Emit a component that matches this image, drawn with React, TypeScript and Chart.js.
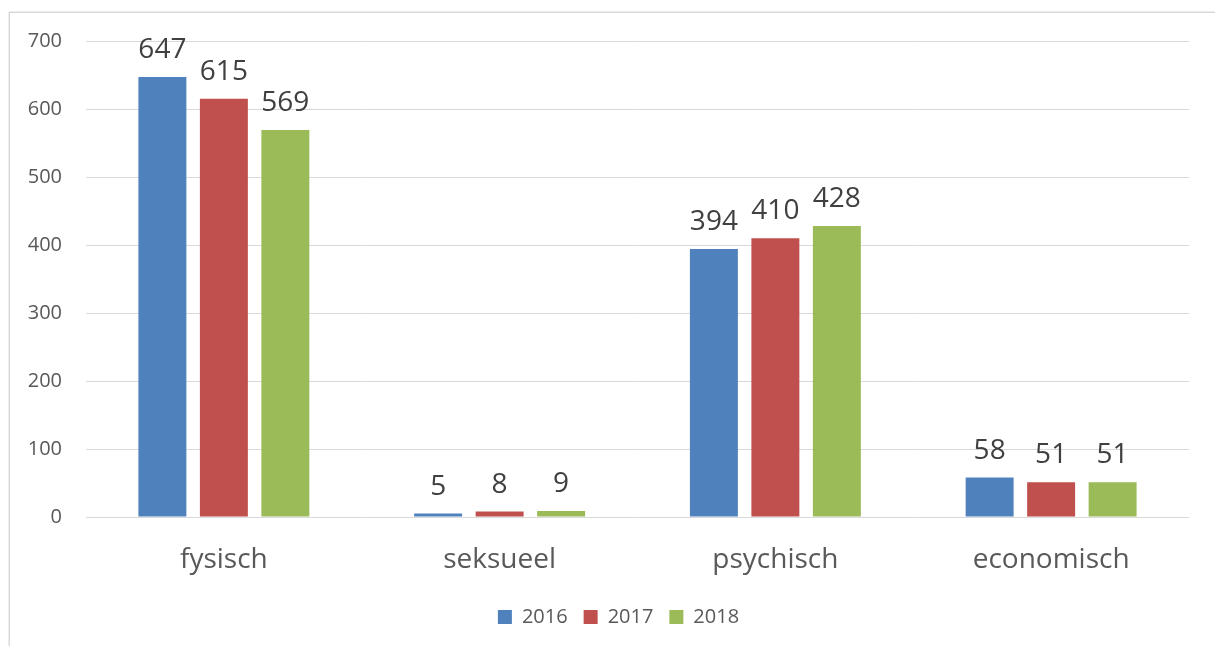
import React, { useEffect, useRef } from "react";
import { Chart, registerables } from "chart.js";

Chart.register(...registerables);

const categories = ["fysisch", "seksueel", "psychisch", "economisch"];
const seriesNames = ["2016", "2017", "2018"];
const values2016 = [647, 5, 394, 58];
const values2017 = [615, 8, 410, 51];
const values2018 = [569, 9, 428, 51];
const seriesColors = ["#4F81BD", "#C0504D", "#9BBB59"];
const yTicks = [0, 100, 200, 300, 400, 500, 600, 700];

const FONT = "'Open Sans', 'Noto Sans', sans-serif";

const borderPlugin = {
  id: "outerBorder",
  beforeDraw(chart: any) {
    const ctx = chart.ctx;
    ctx.save();
    ctx.fillStyle = "#ffffff";
    ctx.fillRect(0, 0, chart.width, chart.height);
    ctx.strokeStyle = "#d9d9d9";
    ctx.lineWidth = 1.5;
    ctx.strokeRect(9.25, 12.25, chart.width + 50, chart.height + 50);
    ctx.restore();
  },
};

const legendShiftPlugin = {
  id: "legendShift",
  afterLayout(chart: any) {
    const lg = chart.legend;
    if (lg) {
      lg.left += 24;
      lg.right += 24;
      lg.top += 1;
      lg.bottom += 1;
    }
  },
};

const valueLabelPlugin = {
  id: "valueLabels",
  afterDatasetsDraw(chart: any) {
    const ctx = chart.ctx;
    ctx.save();
    ctx.font = `28px ${FONT}`;
    ctx.fillStyle = "#404040";
    ctx.textAlign = "center";
    ctx.textBaseline = "alphabetic";
    chart.data.datasets.forEach((ds: any, di: number) => {
      const meta = chart.getDatasetMeta(di);
      meta.data.forEach((bar: any, i: number) => {
        ctx.fillText(String(ds.data[i]), bar.x, bar.y - 19);
      });
    });
    ctx.restore();
  },
};

export default function App() {
  const ref = useRef<HTMLCanvasElement | null>(null);
  useEffect(() => {
    if (!ref.current) return;
    const seriesValues = [values2016, values2017, values2018];
    const chart = new Chart(ref.current, {
      type: "bar",
      data: {
        labels: categories,
        datasets: seriesNames.map((name, i) => ({
          label: name,
          data: seriesValues[i],
          backgroundColor: seriesColors[i],
          borderWidth: 0,
          categoryPercentage: 0.669,
          barPercentage: 0.78,
        })),
      },
      options: {
        responsive: false,
        animation: false,
        layout: { padding: { left: 0, right: 26, top: 41, bottom: 10 } },
        plugins: {
          tooltip: { enabled: false },
          legend: {
            position: "bottom",
            labels: {
              boxWidth: 14,
              boxHeight: 14,
              padding: 16,
              color: "#595959",
              font: { family: FONT, size: 20 },
            },
          },
        },
        scales: {
          x: {
            grid: { display: false },
            border: { display: false },
            ticks: {
              color: "#595959",
              font: { family: FONT, size: 28 },
              padding: 18,
            },
            afterFit(scale: any) {
              scale.height = 73;
            },
          },
          y: {
            min: 0,
            max: 700,
            afterBuildTicks(scale: any) {
              scale.ticks = yTicks.map((v) => ({ value: v }));
            },
            grid: { color: "#d9d9d9", lineWidth: 1, drawTicks: false },
            border: { display: false },
            ticks: {
              color: "#595959",
              font: { family: FONT, size: 20 },
              padding: 24,
            },
            afterFit(scale: any) {
              scale.width = 86;
            },
          },
        },
      },
      plugins: [borderPlugin, legendShiftPlugin, valueLabelPlugin],
    });
    return () => chart.destroy();
  }, []);
  return (
    <div style={{ position: "fixed", left: 0, top: 0, width: 1215, height: 646 }}>
      <canvas ref={ref} width={1215} height={646} />
    </div>
  );
}
